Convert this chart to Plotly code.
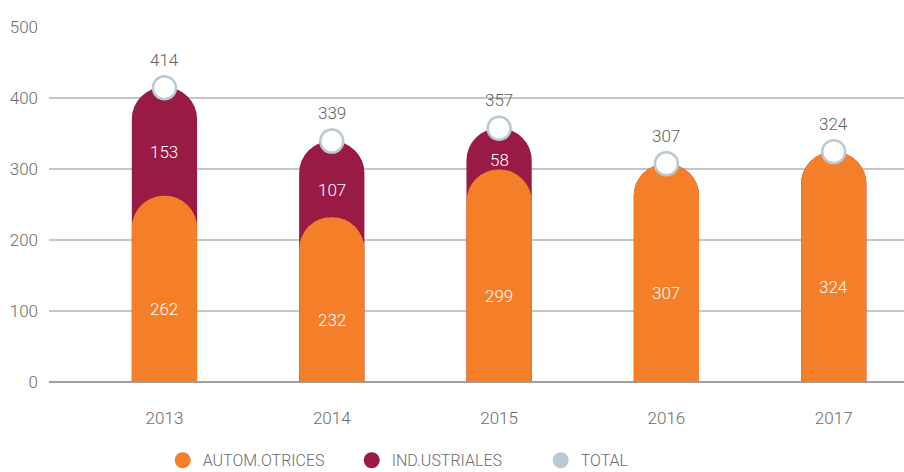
import plotly.graph_objects as go

years = ["2013", "2014", "2015", "2016", "2017"]
automotrices = [262, 232, 299, 307, 324]
industriales = [153, 107, 58, 0, 0]
totals = [414, 339, 357, 307, 324]

ORANGE = "#F47F28"
MAROON = "#991B45"
TOTAL_C = "#B9CAD4"
GREY_TXT = "#6b6b6b"
FONT = "Roboto, sans-serif"

fig = go.Figure()

ind_top = [a + i for a, i in zip(automotrices, industriales)]

# maroon (industriales, drawn from 0 up to the stacked total) on the primary x axis
fig.add_trace(go.Bar(
    x=years, y=ind_top, marker=dict(color=MAROON, cornerradius="50%", line=dict(width=0)),
    width=0.39, showlegend=False, hoverinfo="skip", xaxis="x", yaxis="y"))
# orange (automotrices) on an overlaid x axis so its own top is rounded too
fig.add_trace(go.Bar(
    x=years, y=automotrices, marker=dict(color=ORANGE, cornerradius="50%", line=dict(width=0)),
    width=0.39, showlegend=False, hoverinfo="skip", xaxis="x2", yaxis="y"))
fig.add_trace(go.Scatter(
    x=years, y=totals, mode="markers",
    marker=dict(size=23, color="white", line=dict(color=TOTAL_C, width=2.5)),
    showlegend=False, hoverinfo="skip", xaxis="x2", yaxis="y"))

# legend entries
for name, col in [("AUTOM.OTRICES", ORANGE), ("IND.USTRIALES", MAROON), ("TOTAL", TOTAL_C)]:
    fig.add_trace(go.Scatter(x=[None], y=[None], mode="markers", name=name,
                             marker=dict(size=18, color=col, symbol="circle")))

# labels (category axes take serial index positions)
lab_font = dict(family=FONT, size=17, color="white", weight=300)
for k, (a, i, t) in enumerate(zip(automotrices, industriales, totals)):
    fig.add_annotation(x=k, y=a / 2, xref="x", yref="y", text=str(a), showarrow=False,
                       yshift=-20, font=lab_font)
    if i > 0:
        fig.add_annotation(x=k, y=a + i / 2, xref="x", yref="y", text=str(i), showarrow=False,
                           yshift=-11, font=lab_font)
    fig.add_annotation(x=k, y=t, xref="x", yref="y", text=str(t), showarrow=False, yshift=28,
                       font=dict(family=FONT, size=17, color="#5f5f5f", weight=300))

axis_common = dict(type="category", range=[-0.69, 4.42], showgrid=False, ticks="",
                   showline=False, zeroline=False)

fig.update_layout(
    width=904, height=472,
    margin=dict(l=49, r=0, t=26, b=90, autoexpand=False),
    barmode="overlay",
    plot_bgcolor="white", paper_bgcolor="white",
    font=dict(family=FONT, size=17, color=GREY_TXT, weight=300),
    legend=dict(orientation="h", x=0.133, xanchor="left", y=-0.22, yanchor="middle",
                font=dict(family=FONT, size=16, color=GREY_TXT, weight=300),
                itemsizing="trace", traceorder="normal", entrywidth=144),
    xaxis=dict(**axis_common, ticklabelstandoff=24,
               tickfont=dict(family=FONT, size=17, color=GREY_TXT, weight=300)),
    xaxis2=dict(**axis_common, overlaying="x", visible=False, matches="x"),
    yaxis=dict(range=[0, 501], dtick=100, showgrid=True, gridcolor="#c6c6c6", gridwidth=1.5,
               zeroline=True, zerolinecolor="#a0a0a0", zerolinewidth=1.5,
               ticks="", ticklabelstandoff=10,
               tickfont=dict(family=FONT, size=17, color=GREY_TXT, weight=300)),
)

fig.write_html("out.html", config={"displayModeBar": False},
               post_script="document.body.style.margin='0px';")
